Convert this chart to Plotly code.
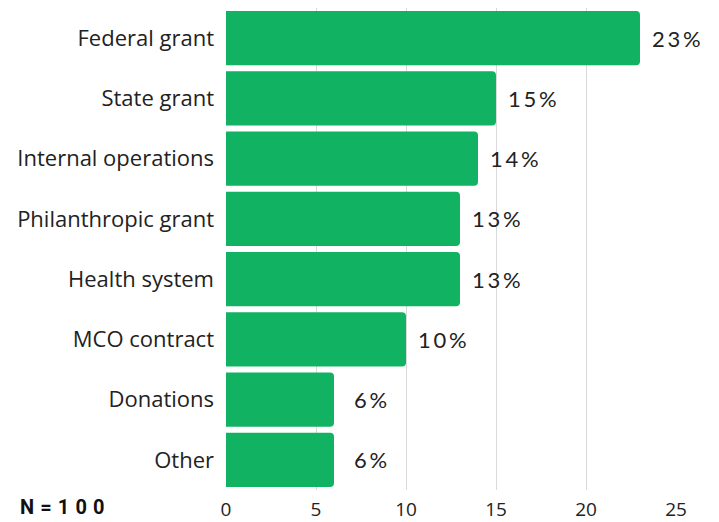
import plotly.graph_objects as go

categories = ["Federal grant", "State grant", "Internal operations", "Philanthropic grant",
              "Health system", "MCO contract", "Donations", "Other"]
values = [23, 15, 14, 13, 13, 10, 6, 6]
tick_vals = [0, 5, 10, 15, 20, 25]
sample_note = "N=100"

def spaced(s, sep="\u2009"):
    return sep.join(list(s))

fig = go.Figure(go.Bar(
    y=categories, x=values, orientation="h",
    marker=dict(color="#12b263", line=dict(width=0)),
    hoverinfo="skip",
))

for c, v in zip(categories, values):
    fig.add_annotation(x=v, y=c, xref="x", yref="y", text=spaced(f"{v}%"),
                       showarrow=False, xanchor="center", xshift=36,
                       font=dict(family="Lato", size=22, color="#222"))

fig.add_annotation(x=0, y=0, xref="paper", yref="paper", xanchor="left", yanchor="middle",
                   xshift=-208, yshift=-17,
                   text="<b>" + spaced(sample_note, "\u2009\u200a") + "</b>", showarrow=False,
                   font=dict(family="Roboto", size=20, color="#111"))

# page body has an 8px default margin, so the figure is offset by 8px
fig.update_layout(
    width=711, height=514,
    margin=dict(l=218, r=43, t=0, b=32, autoexpand=False),
    paper_bgcolor="white", plot_bgcolor="white",
    bargap=0.1, barcornerradius=4,
    showlegend=False,
    xaxis=dict(range=[0, 25], tickvals=tick_vals, showgrid=True, gridcolor="#d9d9d9",
               gridwidth=1, zeroline=False, showline=False, ticks="", automargin=False,
               ticklabelstandoff=6,
               tickfont=dict(family="Open Sans", size=19, color="#222"), fixedrange=True),
    yaxis=dict(categoryorder="array", categoryarray=categories[::-1], autorange=True,
               showgrid=False, zeroline=False, ticks="", ticklabelstandoff=11, automargin=False,
               tickfont=dict(family="Open Sans", size=22, color="#222")),
)

fig.write_html("out.html")
